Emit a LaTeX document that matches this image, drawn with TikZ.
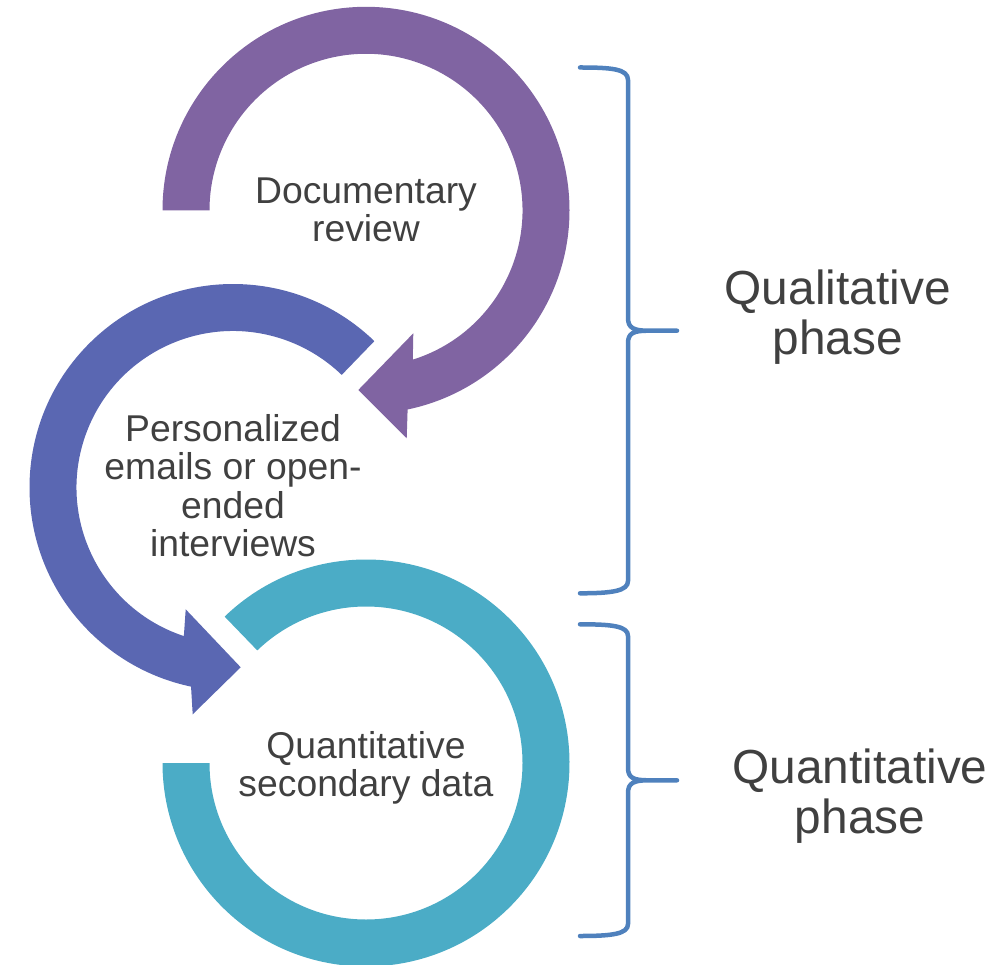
\documentclass[tikz,border=0pt]{standalone}
\usepackage{fontspec}
\setmainfont{Liberation Sans}
\usetikzlibrary{calc}
\definecolor{cpurple}{HTML}{8064A2}
\definecolor{cblue}{HTML}{5A67B2}
\definecolor{cteal}{HTML}{4BACC6}
\definecolor{cbrace}{HTML}{4F81BD}
\definecolor{ctext}{HTML}{404040}
\begin{document}
\begin{tikzpicture}[x=1pt,y=1pt,
  steplabel/.style={align=center, text=ctext, inner sep=0pt, font=\fontsize{37.3}{38.4}\selectfont, anchor=base},
  phaselabel/.style={align=center, text=ctext, inner sep=0pt, font=\fontsize{47.8}{50}\selectfont, anchor=base},
  bracebar/.style={draw=cbrace, line width=4.5pt, line cap=round, line join=round}]
\useasboundingbox (0,0) rectangle (993,-965);

% purple circular arrow
\coordinate (cP) at (366,-210.3);
\fill[cpurple] (cP) ++(180:203.5) arc[start angle=180, end angle=-78.2, radius=203.5]
  -- (406.7,-438.3) -- (358.3,-390) -- (413.3,-333.3)
  -- ($(cP)+(-72.6:156.5)$) arc[start angle=-72.6, end angle=180, radius=156.5] -- cycle;

% blue circular arrow
\coordinate (cB) at (233,-487.5);
\fill[cblue] (cB) ++(46:203.5) arc[start angle=46, end angle=258.1, radius=203.5]
  -- (192.7,-714.3) -- (240.7,-667.3) -- (185.7,-609.3)
  -- ($(cB)+(251.7:156.5)$) arc[start angle=251.7, end angle=46, radius=156.5] -- cycle;

% teal ring
\coordinate (cT) at (366,-763);
\fill[cteal] (cT) ++(134:203.5) arc[start angle=134, end angle=-180, radius=203.5]
  -- ($(cT)+(180:156.5)$) arc[start angle=-180, end angle=134, radius=156.5] -- cycle;

% labels (anchor=base is the baseline of the last line)
\node[steplabel] (doc) at (366,-241.7) {Documentary\\review};
\node[steplabel] (pers) at (233,-556.7) {Personalized\\emails or open-\\ended\\interviews};
\node[steplabel] (quant) at (366,-796.7) {Quantitative\\secondary data};

% braces
\draw[bracebar] (580,-67.5) .. controls (612,-67.5) and (628,-69) .. (628,-80)
  -- (628,-318) .. controls (628,-328) and (634,-330.7) .. (648,-330.7) -- (677,-330.7)
  (648,-330.7) .. controls (634,-330.7) and (628,-333) .. (628,-343)
  -- (628,-581) .. controls (628,-591) and (612,-593.3) .. (580,-593.3);
\draw[bracebar] (580,-624.3) .. controls (612,-624.3) and (628,-626) .. (628,-636)
  -- (628,-768) .. controls (628,-778) and (634,-780.3) .. (648,-780.3) -- (677,-780.3)
  (648,-780.3) .. controls (634,-780.3) and (628,-783) .. (628,-793)
  -- (628,-924) .. controls (628,-934) and (612,-936) .. (580,-936);

\node[phaselabel] (qual) at (837.7,-355) {Qualitative\\phase};
\node[phaselabel] (quan) at (860,-833.3) {Quantitative\\phase};
\end{tikzpicture}
\end{document}
